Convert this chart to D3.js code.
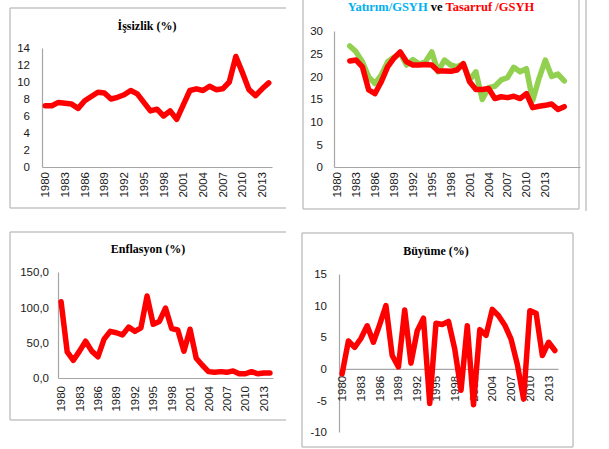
<!DOCTYPE html>
<html><head><meta charset="utf-8">
<script src="https://cdn.jsdelivr.net/npm/d3@7"></script>
<style>
html,body{margin:0;padding:0;background:#fff;}
svg{display:block;}
.ylab{font-family:"Liberation Sans",Arial,sans-serif;font-size:11.5px;fill:#1a1a1a;}
.xlab{font-family:"Liberation Sans",Arial,sans-serif;font-size:11.5px;fill:#1a1a1a;}
.title{font-family:"Liberation Serif","Times New Roman",serif;font-weight:bold;font-size:12px;}
</style></head>
<body>
<svg id="c" width="609" height="449"></svg>
<script>
// ---- data ----
const years = [1980,1981,1982,1983,1984,1985,1986,1987,1988,1989,1990,1991,1992,1993,1994,1995,1996,1997,1998,1999,2000,2001,2002,2003,2004,2005,2006,2007,2008,2009,2010,2011,2012,2013,2014];
const xTickYears = [1980,1983,1986,1989,1992,1995,1998,2001,2004,2007,2010,2013];

const unemployment = [7.2,7.2,7.6,7.5,7.4,6.9,7.8,8.3,8.8,8.7,8.0,8.2,8.5,9.0,8.6,7.6,6.6,6.8,6.0,6.6,5.6,7.3,9.0,9.2,9.0,9.5,9.1,9.2,10.0,13.0,11.1,9.1,8.4,9.2,9.9];
const unemploymentTicks = [0,2,4,6,8,10,12,14];

const inflation = [108,37,25,38,52,38,30,55,66,64,61,72,66,71,116,76,80,99,70,68,38,69,28,18,9,8,9,8,10,6,6,9,6,7,7];
const inflationTicks = [0,50,100,150];
const inflationTickLabels = ["0,0","50,0","100,0","150,0"];

const growth = [-0.8,4.4,3.4,4.8,6.8,4.2,7.0,10.0,2.1,0.3,9.3,0.9,6.0,8.0,-5.5,7.2,7.0,7.5,3.1,-3.4,6.8,-5.7,6.2,5.3,9.4,8.4,6.9,4.7,0.7,-4.8,9.2,8.8,2.1,4.2,2.9];
const growthTicks = [-10,-5,0,5,10,15];

// investment / savings panel (category axis runs 1980-2018, data 1982-2016)
const isCategories = [1980,1981,1982,1983,1984,1985,1986,1987,1988,1989,1990,1991,1992,1993,1994,1995,1996,1997,1998,1999,2000,2001,2002,2003,2004,2005,2006,2007,2008,2009,2010,2011,2012,2013,2014,2015,2016,2017,2018];
const isYears = [1982,1983,1984,1985,1986,1987,1988,1989,1990,1991,1992,1993,1994,1995,1996,1997,1998,1999,2000,2001,2002,2003,2004,2005,2006,2007,2008,2009,2010,2011,2012,2013,2014,2015,2016];
const investment = [26.7,25.4,23.2,19.9,18.4,20.3,23.2,24.2,25.1,22.5,23.7,22.7,23.2,25.4,21.0,23.6,22.5,22.1,22.8,19.2,21.0,14.9,17.5,17.8,19.2,19.7,22.0,21.0,21.7,14.7,19.5,23.6,20.0,20.5,19.0];
const savings = [23.4,23.6,22.1,17.0,16.2,18.8,22.1,24.0,25.4,23.2,22.5,22.5,22.6,22.5,21.2,21.2,21.1,21.4,22.8,18.8,17.1,17.1,17.3,15.1,15.5,15.3,15.6,15.1,16.2,13.1,13.4,13.6,13.9,12.7,13.3];
const isTicks = [0,5,10,15,20,25,30];

const RED = "#ff0000", GREEN = "#92d050", CYAN = "#00b0f0", AXIS = "#a6a6a6", BORDER = "#c4c4c4";

const svg = d3.select("#c");

function panel(o){
  const g = svg.append("g");
  const x = d3.scaleBand().domain(o.cats).range([o.x0, o.x1]);
  const y = d3.scaleLinear().domain(o.ydom).range([o.yb, o.yt]);
  // y axis
  const ya = d3.axisLeft(y).tickValues(o.yticks).tickSize(0).tickPadding(o.ypad)
     .tickFormat((d,i)=> o.ylabels ? o.ylabels[i] : d);
  const yg = g.append("g").attr("transform",`translate(${o.x0},0)`).call(ya);
  yg.select(".domain").attr("stroke",AXIS).attr("stroke-width",1.2);
  yg.selectAll("text").attr("class","ylab").attr("font-family",null).attr("font-size",null);
  // x axis
  const xa = d3.axisBottom(x).tickValues(o.xticks).tickSize(0).tickSizeOuter(0);
  const xg = g.append("g").attr("transform",`translate(0,${y(o.xAt)})`).call(xa);
  xg.select(".domain").attr("stroke",AXIS).attr("stroke-width",1.2);
  xg.selectAll("text").attr("class","xlab").attr("font-family",null).attr("font-size",null)
     .attr("transform","rotate(-90)").attr("text-anchor","end")
     .attr("x",-o.xlabOff).attr("y",0).attr("dy","0.35em");
  // series
  o.series.forEach(s=>{
    const line = d3.line().x((d,i)=>x(s.years[i])+x.bandwidth()/2).y(d=>y(d));
    g.append("path").datum(s.values).attr("d",line).attr("fill","none")
      .attr("stroke",s.color).attr("stroke-width",5.5)
      .attr("stroke-linejoin","round").attr("stroke-linecap","round");
  });
  return g;
}

// borders
function border(lines){
  lines.forEach(l=> svg.append("line").attr("x1",l[0]).attr("y1",l[1]).attr("x2",l[2]).attr("y2",l[3])
     .attr("stroke",BORDER).attr("stroke-width",1.5));
}
border([[10,8,286,8],[10,8,10,208],[10,208,286,208]]);
border([[303,0,303,209],[303,209,579,209],[579,0,579,209],[586,0,586,211]]);
border([[10,232,286,232],[10,232,10,420],[10,420,286,420]]);
border([[302,233,573,233],[302,233,302,447],[573,233,573,447],[302,447,573,447]]);

// Panel 1: unemployment
panel({cats:years, x0:42, x1:272, ydom:[0,14], yb:167, yt:48, yticks:unemploymentTicks, ypad:12,
  xticks:xTickYears, xAt:0, xlabOff:5, series:[{years:years, values:unemployment, color:RED}]});
svg.append("text").attr("class","title").attr("x",147).attr("y",30).attr("text-anchor","middle").text("İşsizlik (%)");

// Panel 2: investment & savings
panel({cats:isCategories, x0:334, x1:580, ydom:[0,30], yb:167, yt:31, yticks:isTicks, ypad:11,
  xticks:xTickYears, xAt:0, xlabOff:5,
  series:[{years:isYears, values:investment, color:GREEN},{years:isYears, values:savings, color:RED}]});
const t2 = svg.append("text").attr("class","title").attr("x",441).attr("y",11).attr("text-anchor","middle")
  .style("font-size","12.5px");
t2.append("tspan").attr("fill",CYAN).text("Yatırım/GSYH");
t2.append("tspan").attr("fill","#000").text(" ve ");
t2.append("tspan").attr("fill",RED).text("Tasarruf /GSYH");

// Panel 3: inflation
panel({cats:years, x0:58, x1:273, ydom:[0,150], yb:378, yt:272, yticks:inflationTicks, ylabels:inflationTickLabels, ypad:9,
  xticks:xTickYears, xAt:0, xlabOff:8, series:[{years:years, values:inflation, color:RED}]});
svg.append("text").attr("class","title").attr("x",148).attr("y",253).attr("text-anchor","middle").text("Enflasyon (%)");

// Panel 4: growth
panel({cats:years, x0:339, x1:558, ydom:[-10,15], yb:432, yt:274, yticks:growthTicks, ypad:12,
  xticks:xTickYears, xAt:0, xlabOff:7, series:[{years:years, values:growth, color:RED}]});
svg.append("text").attr("class","title").attr("x",436).attr("y",255).attr("text-anchor","middle").text("Büyüme (%)");
</script>
</body></html>
